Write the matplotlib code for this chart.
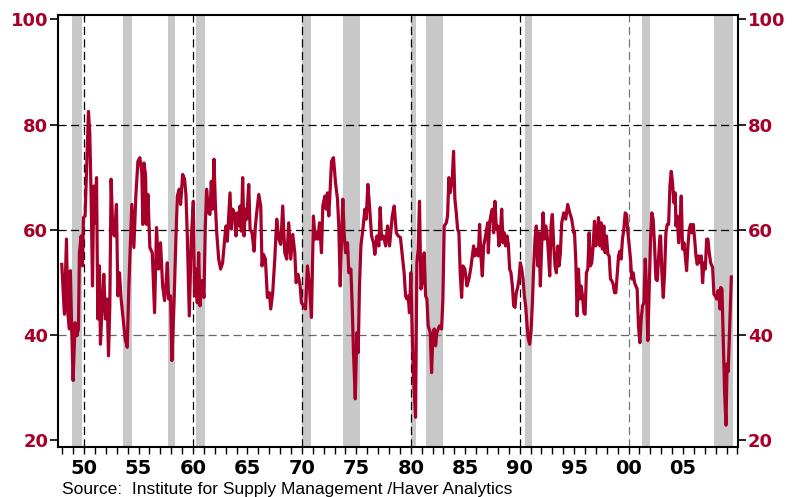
import matplotlib
matplotlib.use('Agg')
import matplotlib.pyplot as plt
from matplotlib.ticker import MultipleLocator

# index readings (decimal year, level)
years = [
    1947.95, 1948.19, 1948.38, 1948.50, 1948.65, 1948.74, 1948.87, 1948.99, 1949.17, 1949.33,
    1949.48, 1949.57, 1949.73, 1949.85, 1949.94, 1950.09, 1950.22, 1950.40, 1950.52, 1950.65,
    1950.77, 1950.89, 1951.01, 1951.14, 1951.26, 1951.41, 1951.50, 1951.66, 1951.81, 1951.96,
    1952.12, 1952.24, 1952.36, 1952.48, 1952.64, 1952.79, 1952.97, 1953.10, 1953.25, 1953.40,
    1953.59, 1953.77, 1953.96, 1954.11, 1954.26, 1954.38, 1954.57, 1954.75, 1954.94, 1955.12,
    1955.30, 1955.40, 1955.49, 1955.64, 1955.74, 1955.86, 1956.04, 1956.26, 1956.47, 1956.65,
    1956.84, 1957.02, 1957.21, 1957.39, 1957.51, 1957.64, 1957.76, 1957.94, 1958.06, 1958.25,
    1958.43, 1958.56, 1958.74, 1958.86, 1959.05, 1959.23, 1959.35, 1959.47, 1959.66, 1959.84,
    1960.03, 1960.15, 1960.27, 1960.39, 1960.52, 1960.64, 1960.82, 1961.01, 1961.13, 1961.25,
    1961.44, 1961.56, 1961.68, 1961.80, 1961.93, 1962.05, 1962.17, 1962.36, 1962.54, 1962.72,
    1962.91, 1963.03, 1963.15, 1963.40, 1963.52, 1963.65, 1963.83, 1963.95, 1964.07, 1964.20,
    1964.32, 1964.44, 1964.56, 1964.69, 1964.81, 1964.93, 1965.12, 1965.24, 1965.42, 1965.61,
    1965.73, 1965.85, 1966.04, 1966.22, 1966.34, 1966.47, 1966.65, 1966.83, 1967.02, 1967.14,
    1967.32, 1967.51, 1967.69, 1967.88, 1968.06, 1968.24, 1968.43, 1968.61, 1968.79, 1968.98,
    1969.16, 1969.35, 1969.47, 1969.65, 1969.84, 1969.96, 1970.14, 1970.33, 1970.51, 1970.70,
    1970.88, 1971.06, 1971.22, 1971.31, 1971.46, 1971.62, 1971.80, 1971.92, 1972.11, 1972.23,
    1972.35, 1972.47, 1972.60, 1972.72, 1972.90, 1973.09, 1973.27, 1973.39, 1973.52, 1973.64,
    1973.76, 1973.88, 1974.01, 1974.19, 1974.31, 1974.50, 1974.62, 1974.74, 1974.90, 1975.05,
    1975.17, 1975.29, 1975.42, 1975.60, 1975.79, 1975.91, 1976.06, 1976.21, 1976.40, 1976.58,
    1976.70, 1976.89, 1977.07, 1977.19, 1977.32, 1977.50, 1977.69, 1977.87, 1978.05, 1978.30,
    1978.48, 1978.67, 1978.85, 1979.05, 1979.20, 1979.39, 1979.52, 1979.64, 1979.76, 1979.88,
    1980.01, 1980.13, 1980.28, 1980.44, 1980.56, 1980.68, 1980.80, 1980.93, 1981.05, 1981.23,
    1981.36, 1981.48, 1981.60, 1981.79, 1981.91, 1982.03, 1982.15, 1982.28, 1982.40, 1982.52,
    1982.64, 1982.83, 1982.95, 1983.07, 1983.26, 1983.38, 1983.50, 1983.62, 1983.81, 1983.93,
    1984.05, 1984.18, 1984.30, 1984.42, 1984.54, 1984.67, 1984.79, 1984.97, 1985.16, 1985.34,
    1985.52, 1985.65, 1985.77, 1985.89, 1986.08, 1986.20, 1986.32, 1986.44, 1986.57, 1986.69,
    1986.87, 1987.06, 1987.12, 1987.24, 1987.37, 1987.49, 1987.61, 1987.73, 1987.86, 1987.98,
    1988.10, 1988.22, 1988.35, 1988.47, 1988.59, 1988.71, 1988.84, 1988.96, 1989.08, 1989.20,
    1989.33, 1989.45, 1989.57, 1989.69, 1989.82, 1989.94, 1990.06, 1990.19, 1990.31, 1990.43,
    1990.55, 1990.68, 1990.80, 1990.92, 1991.04, 1991.17, 1991.29, 1991.41, 1991.53, 1991.66,
    1991.78, 1991.90, 1992.02, 1992.15, 1992.27, 1992.39, 1992.51, 1992.64, 1992.76, 1992.88,
    1993.00, 1993.13, 1993.25, 1993.37, 1993.50, 1993.62, 1993.74, 1993.86, 1994.05, 1994.23,
    1994.41, 1994.60, 1994.78, 1994.97, 1995.03, 1995.15, 1995.28, 1995.40, 1995.52, 1995.64,
    1995.77, 1995.89, 1996.01, 1996.13, 1996.26, 1996.38, 1996.50, 1996.62, 1996.75, 1996.87,
    1996.99, 1997.11, 1997.24, 1997.36, 1997.48, 1997.60, 1997.73, 1997.85, 1997.97, 1998.10,
    1998.22, 1998.34, 1998.46, 1998.59, 1998.71, 1998.83, 1998.95, 1999.08, 1999.20, 1999.32,
    1999.44, 1999.57, 1999.69, 1999.81, 1999.93, 2000.06, 2000.18, 2000.30, 2000.42, 2000.55,
    2000.67, 2000.79, 2000.91, 2001.04, 2001.16, 2001.28, 2001.41, 2001.53, 2001.65, 2001.77,
    2001.90, 2002.02, 2002.14, 2002.26, 2002.39, 2002.51, 2002.63, 2002.75, 2002.88, 2002.94,
    2003.06, 2003.19, 2003.31, 2003.43, 2003.55, 2003.68, 2003.80, 2003.92, 2004.04, 2004.17,
    2004.29, 2004.35, 2004.47, 2004.60, 2004.72, 2004.84, 2004.96, 2005.09, 2005.21, 2005.33,
    2005.45, 2005.58, 2005.70, 2005.82, 2005.94, 2006.07, 2006.19, 2006.31, 2006.43, 2006.56,
    2006.68, 2006.80, 2006.92, 2007.05, 2007.17, 2007.29, 2007.41, 2007.54, 2007.72, 2007.84,
    2007.97, 2008.09, 2008.21, 2008.33, 2008.40, 2008.46, 2008.58, 2008.70, 2008.82, 2008.95,
    2009.05, 2009.15, 2009.44,
]
values = [
    53.4, 43.9, 58.2, 44.2, 41.1, 52.2, 40.4, 31.3, 42.3, 39.8,
    41.1, 55.6, 58.8, 53.1, 62.3, 62.6, 70.8, 82.5, 78.4, 65.8,
    49.3, 68.3, 61.3, 69.9, 43.0, 53.1, 38.2, 45.5, 51.5, 43.0,
    46.8, 36.0, 45.5, 69.6, 59.4, 58.8, 64.8, 47.4, 51.8, 46.8,
    43.0, 39.2, 37.6, 49.3, 58.2, 64.8, 56.6, 66.4, 73.0, 73.7,
    70.8, 61.0, 72.7, 70.5, 61.0, 66.7, 56.6, 55.6, 44.2, 60.4,
    52.5, 57.5, 49.3, 46.5, 49.3, 53.7, 46.8, 47.4, 35.1, 45.5,
    58.2, 66.4, 67.7, 64.8, 70.5, 69.6, 66.7, 59.4, 43.6, 58.2,
    65.4, 47.4, 52.5, 46.1, 55.6, 45.5, 50.3, 47.1, 60.7, 67.7,
    63.2, 62.9, 69.2, 63.9, 73.4, 65.1, 59.7, 54.4, 52.5, 53.7,
    58.2, 60.7, 57.8, 67.0, 60.1, 63.9, 62.9, 58.8, 63.2, 60.7,
    64.5, 59.7, 69.9, 58.8, 63.9, 62.0, 68.6, 60.1, 59.4, 55.9,
    60.7, 63.2, 66.7, 64.5, 53.1, 55.3, 54.4, 47.1, 48.0, 44.9,
    48.0, 54.4, 62.0, 58.2, 57.2, 64.5, 55.6, 54.4, 61.3, 54.4,
    59.1, 55.6, 49.9, 51.5, 49.3, 46.1, 45.5, 44.9, 53.1, 49.3,
    43.3, 62.6, 58.2, 59.4, 58.2, 61.3, 55.6, 64.5, 66.4, 63.9,
    67.0, 62.6, 67.7, 73.0, 73.7, 68.9, 65.8, 60.7, 49.3, 58.2,
    65.8, 59.4, 55.6, 57.5, 51.8, 52.5, 45.5, 36.6, 27.8, 40.4,
    36.6, 49.3, 56.9, 60.1, 63.9, 62.0, 68.6, 64.5, 58.8, 57.5,
    55.3, 58.8, 56.9, 64.2, 58.2, 58.8, 56.9, 60.7, 56.9, 62.6,
    64.5, 59.4, 58.8, 58.5, 55.5, 51.8, 47.4, 46.8, 47.4, 44.2,
    51.8, 40.4, 30.9, 24.3, 53.7, 56.3, 65.4, 48.7, 49.9, 55.6,
    47.4, 46.8, 41.7, 40.4, 32.8, 39.8, 41.1, 37.9, 40.4, 41.1,
    41.7, 41.1, 46.8, 60.7, 61.3, 62.6, 69.9, 67.0, 69.6, 74.9,
    65.8, 63.2, 60.1, 59.4, 51.8, 47.1, 53.1, 52.5, 49.3, 50.6,
    52.8, 55.0, 56.9, 55.0, 56.3, 55.0, 61.0, 55.0, 51.2, 56.9,
    58.8, 61.3, 55.6, 61.3, 62.9, 63.9, 59.4, 65.4, 60.1, 60.7,
    56.9, 58.8, 63.9, 57.5, 59.4, 56.9, 58.8, 57.2, 52.5, 51.8,
    49.3, 45.5, 45.2, 48.0, 49.0, 50.6, 53.7, 52.5, 50.6, 47.4,
    45.5, 41.7, 39.2, 38.2, 40.4, 46.1, 53.1, 58.2, 60.7, 53.1,
    59.4, 49.3, 56.9, 63.2, 58.2, 60.7, 59.4, 55.6, 51.2, 60.7,
    62.9, 56.9, 53.1, 51.8, 56.9, 53.1, 55.6, 61.3, 63.2, 62.0,
    64.8, 63.2, 62.0, 59.4, 59.7, 54.4, 43.6, 52.5, 46.8, 49.3,
    47.4, 44.2, 43.9, 51.8, 52.5, 59.4, 53.1, 53.7, 56.9, 61.6,
    56.9, 58.8, 62.3, 56.9, 61.3, 56.3, 60.7, 55.6, 58.8, 55.3,
    55.0, 50.6, 50.3, 49.6, 48.0, 48.0, 51.2, 55.0, 55.9, 54.4,
    58.2, 60.1, 63.2, 62.9, 59.7, 56.9, 54.4, 50.6, 51.8, 49.9,
    49.3, 48.7, 41.7, 38.5, 43.0, 45.5, 46.1, 54.4, 48.7, 38.9,
    49.3, 58.2, 63.2, 62.0, 56.9, 50.6, 50.3, 54.4, 58.8, 58.8,
    51.8, 47.1, 51.8, 59.4, 61.0, 61.0, 68.3, 71.1, 68.9, 65.1,
    67.0, 60.7, 62.6, 57.5, 60.7, 66.4, 56.3, 57.5, 55.0, 52.2,
    56.9, 60.1, 61.0, 59.4, 61.0, 58.2, 55.0, 53.4, 55.0, 53.7,
    55.0, 49.9, 53.7, 52.5, 58.2, 58.2, 55.6, 53.7, 52.8, 47.7,
    47.4, 46.8, 48.4, 46.8, 44.9, 49.0, 48.7, 38.5, 29.1, 22.8,
    34.5, 33.0, 51.0,
]

# NBER recessions as shaded on the chart
rec_start = [1948.87, 1953.57, 1957.70, 1960.27, 1969.99, 1973.82, 1980.04, 1981.42, 1990.52, 2001.20, 2007.82]
rec_end = [1949.79, 1954.39, 1958.34, 1961.07, 1970.85, 1975.32, 1980.50, 1982.96, 1991.17, 2001.94, 2009.55]

decade_lines = [1950, 1960, 1970, 1980, 1990, 2000]
level_lines = [40, 60, 80]
x_ticks = [1950, 1955, 1960, 1965, 1970, 1975, 1980, 1985, 1990, 1995, 2000, 2005]
x_labels = ['50', '55', '60', '65', '70', '75', '80', '85', '90', '95', '00', '05']
y_ticks = [20, 40, 60, 80, 100]

RED = '#a6002a'
GREY_BAR = '#c8c8c8'

fig = plt.figure(figsize=(7.92, 4.97), dpi=100)
ax = fig.add_axes([0.0732, 0.1012, 0.8586, 0.8692])
ax.set_xlim(1947.6, 2010.05)
ax.set_ylim(18.7, 100.9)

for s, e in zip(rec_start, rec_end):
    ax.axvspan(s, e, color=GREY_BAR, lw=0, zorder=1)

for x in decade_lines:
    c = '#777777' if x == 2000 else 'black'
    ax.axvline(x, color=c, lw=0.9, ls=(0, (6.5, 3.5)), zorder=2)
for y in level_lines:
    c = '#666666' if y == 40 else 'black'
    ax.axhline(y, color=c, lw=0.9, ls=(0, (6.5, 3.5)), zorder=2)

ax.plot(years, values, color=RED, lw=2.3, solid_joinstyle='round', zorder=3)

for sp in ax.spines.values():
    sp.set_linewidth(1.5)

# x axis: labelled every 5 years, small tick every year
ax.set_xticks(x_ticks)
ax.set_xticklabels(x_labels, fontsize=14, fontweight='bold', family='DejaVu Sans')
ax.xaxis.set_minor_locator(MultipleLocator(1))
ax.tick_params(axis='x', which='both', direction='out', length=5, width=1, pad=3.5)

# y axis: same scale on both sides, red labels
ax.set_yticks(y_ticks)
ax.tick_params(axis='y', direction='out', length=5.5, width=1.2, pad=1.5,
               left=True, right=True, labelleft=True, labelright=True,
               labelcolor=RED, labelsize=13)
for t in ax.yaxis.get_major_ticks():
    t.label1.set_fontweight('bold')
    t.label2.set_fontweight('bold')

fig.text(0.078, 0.007, 'Source:  Institute for Supply Management /Haver Analytics',
         fontsize=12.5, family='Liberation Sans', va='baseline', ha='left')

fig.savefig('out.png', dpi=100)
